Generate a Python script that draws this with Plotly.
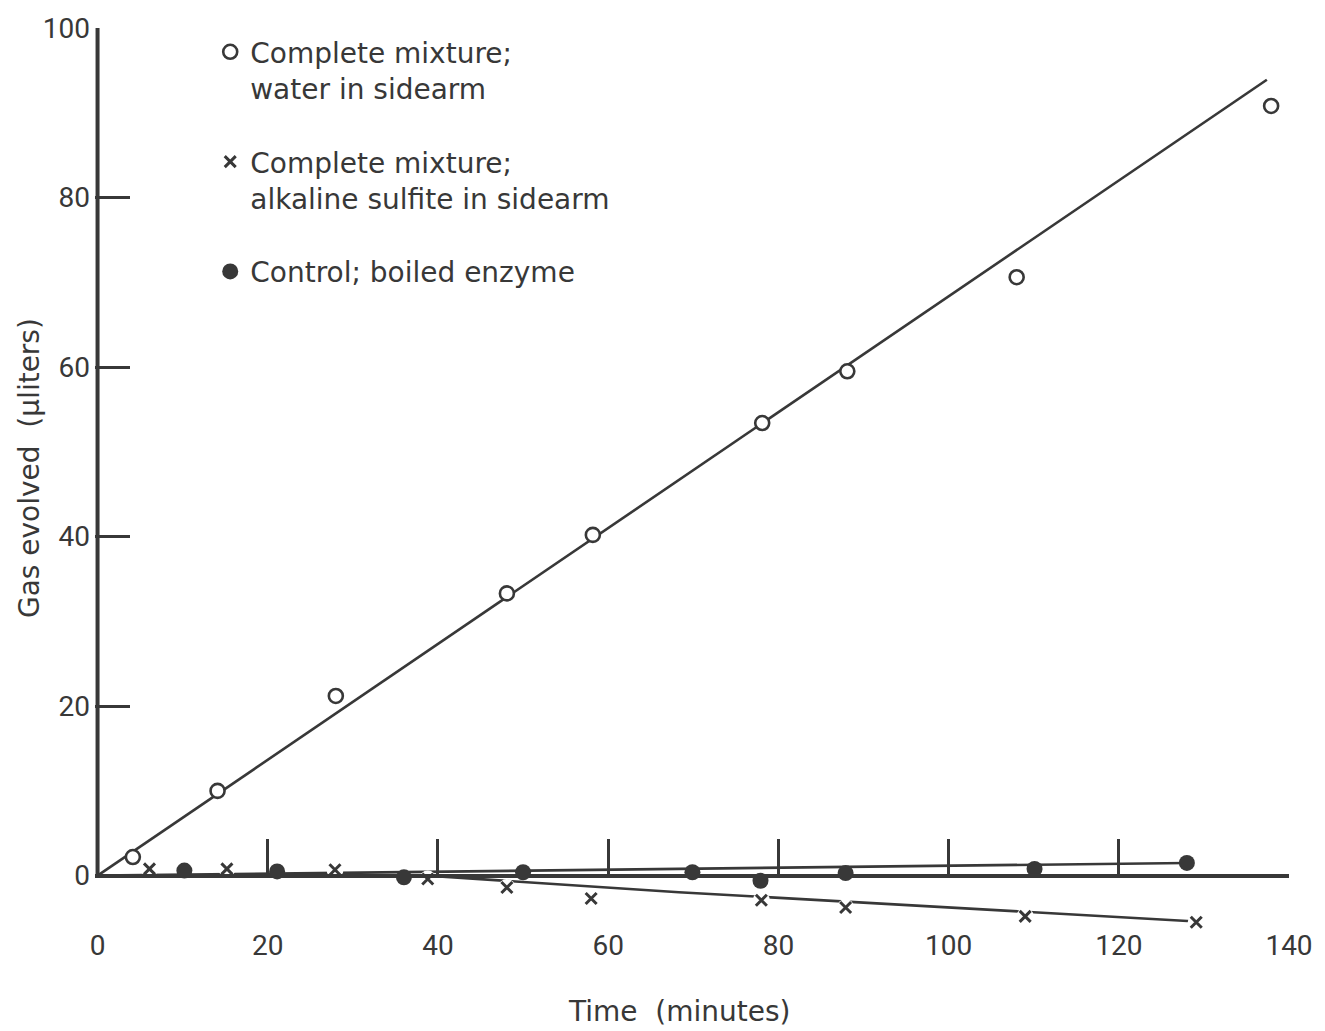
import plotly.graph_objects as go

# Complete mixture; water in sidearm (open circles)
water_t = [4.15, 14.1, 28.0, 48.1, 58.2, 78.1, 88.1, 108.0, 137.9]
water_v = [2.2, 10.0, 21.2, 33.3, 40.2, 53.4, 59.5, 70.6, 90.8]
water_fit_t = [0, 137.4]
water_fit_v = [0, 93.9]

# Complete mixture; alkaline sulfite in sidearm (crosses)
sulfite_t = [6.1, 15.2, 27.9, 38.8, 48.1, 58.0, 78.0, 87.9, 109.0, 129.1]
sulfite_v = [0.8, 0.8, 0.7, -0.4, -1.4, -2.7, -2.9, -3.75, -4.8, -5.5]
sulfite_fit_t = [0, 38.8, 68.3, 107.0, 129.1]
sulfite_fit_v = [0, 0, -1.95, -4.1, -5.4]

# Control; boiled enzyme (filled circles)
control_t = [10.2, 21.1, 36.0, 50.0, 69.9, 77.9, 87.9, 110.1, 128.0]
control_v = [0.6, 0.5, -0.2, 0.4, 0.4, -0.6, 0.3, 0.8, 1.5]
control_fit_t = [0, 128.0]
control_fit_v = [0, 1.5]

x_ticks = [0, 20, 40, 60, 80, 100, 120, 140]
y_ticks = [0, 20, 40, 60, 80, 100]

INK = "#383838"
TEXT_FONT = "DejaVu Sans, sans-serif"
NUM_FONT = "Roboto, DejaVu Sans, sans-serif"
X_MIN, X_MAX = -0.3, 140
Y_MIN, Y_MAX = -7, 100

fig = go.Figure()

# fitted lines
for t, v in [(water_fit_t, water_fit_v), (sulfite_fit_t, sulfite_fit_v),
             (control_fit_t, control_fit_v)]:
    fig.add_trace(go.Scatter(x=t, y=v, mode="lines", showlegend=False,
                             line=dict(color=INK, width=2.6), hoverinfo="skip"))

# white gaps around the crosses where the line is interrupted
fig.add_trace(go.Scatter(x=sulfite_t, y=sulfite_v, mode="markers", showlegend=False,
                         marker=dict(symbol="circle", size=17, color="white"),
                         hoverinfo="skip"))

fig.add_trace(go.Scatter(
    x=water_t, y=water_v, mode="markers", name="Complete mixture;<br>water in sidearm",
    legendgroup="a",
    marker=dict(symbol="circle", size=14, color="white", line=dict(color=INK, width=2.6))))
fig.add_trace(go.Scatter(
    x=sulfite_t, y=sulfite_v, mode="markers",
    name="Complete mixture;<br>alkaline sulfite in sidearm", legendgroup="b",
    marker=dict(symbol="x-thin", size=11, color=INK, line=dict(color=INK, width=3))))
fig.add_trace(go.Scatter(
    x=control_t, y=control_v, mode="markers", name="Control; boiled enzyme",
    legendgroup="c",
    marker=dict(symbol="circle", size=16, color=INK, line=dict(width=0))))

# y axis line from 0 to 100 only
fig.add_shape(type="line", x0=0, x1=0, y0=0, y1=100, xref="x", yref="y",
              line=dict(color=INK, width=4))

fig.update_layout(
    width=1325, height=1031,
    margin=dict(l=95, r=33, t=22, b=96),
    paper_bgcolor="white", plot_bgcolor="white",
    font=dict(family=TEXT_FONT, color=INK),
    legend=dict(x=0.0965, y=1.001, xanchor="left", yanchor="top",
                font=dict(size=28, color=INK, family=TEXT_FONT), valign="top",
                tracegroupgap=34, traceorder="grouped", bgcolor="rgba(0,0,0,0)"),
    xaxis=dict(range=[X_MIN, X_MAX], tickvals=x_ticks, ticks="inside", ticklen=35,
               tickwidth=3, tickcolor=INK, showline=True, linewidth=4, linecolor=INK,
               showgrid=False, zeroline=False, anchor="free",
               position=(0 - Y_MIN) / (Y_MAX - Y_MIN),
               tickfont=dict(size=28, color=INK, family=NUM_FONT), ticklabelstandoff=44),
    yaxis=dict(range=[Y_MIN, Y_MAX], tickvals=y_ticks, ticks="inside", ticklen=35,
               tickwidth=3, tickcolor=INK, showline=False, showgrid=False,
               zeroline=False, tickfont=dict(size=28, color=INK, family=NUM_FONT),
               ticklabelstandoff=4),
    annotations=[
        dict(text="Time  (minutes)", x=0.4896, y=-0.0843, xref="paper", yref="paper",
             xanchor="center", yanchor="middle", showarrow=False,
             font=dict(size=28, color=INK, family=TEXT_FONT)),
        dict(text="Gas evolved  (µliters)", x=-0.0543, y=0.515, xref="paper", yref="paper",
             xanchor="center", yanchor="middle", textangle=-90, showarrow=False,
             font=dict(size=28, color=INK, family=TEXT_FONT)),
    ],
)

fig.write_html("out.html")
